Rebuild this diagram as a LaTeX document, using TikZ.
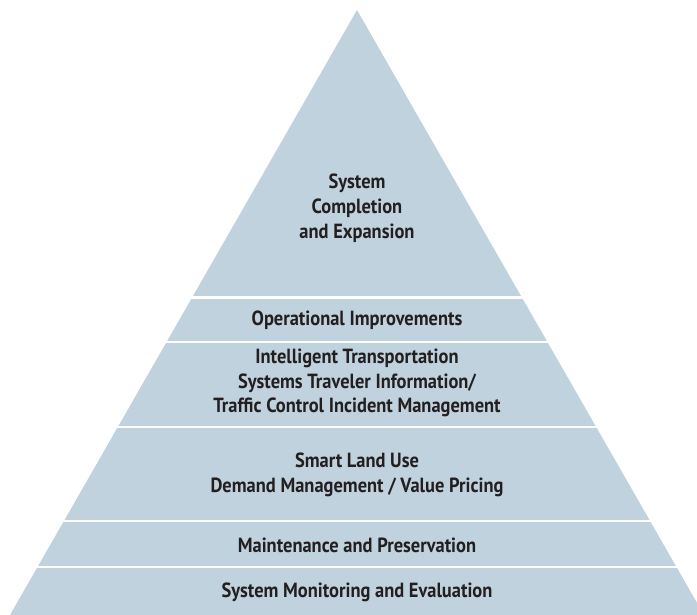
\documentclass[tikz,border=0pt]{standalone}
\usepackage{fontspec}
\setmainfont{PT Sans}[FakeStretch=0.9]
\definecolor{band}{RGB}{192,210,222}
\definecolor{ink}{RGB}{35,31,32}
\begin{document}
\begin{tikzpicture}[x=1pt,y=-1pt,
  lbl/.style={text=ink,font=\bfseries\fontsize{20.5}{24.8}\selectfont,align=center,inner sep=0pt},
  gap/.style={white,line width=2.6pt}]
\useasboundingbox (0,0) rectangle (697,615);
\clip (0,0) rectangle (697,615);
\coordinate (apex) at (357,10);
\coordinate (bl) at (10,615);
\coordinate (br) at (704,615);
\fill[band] (apex) -- (bl) -- (br) -- cycle;
\foreach \y in {297.5,342,427,521,567}{
  \draw[gap] (0,\y) -- (697,\y);
}
\node[lbl] (top) at (357,208) {System\\Completion\\and Expansion};
\node[lbl] (ops) at (357,320.5) {Operational Improvements};
\node[lbl] (its) at (357,383) {Intelligent Transportation\\Systems Traveler Information/\\Traffic Control Incident Management};
\node[lbl] (smart) at (357,474.5) {Smart Land Use\\Demand Management / Value Pricing};
\node[lbl] (maint) at (357,545.5) {Maintenance and Preservation};
\node[lbl] (mon) at (357,592) {System Monitoring and Evaluation};
\end{tikzpicture}
\end{document}
